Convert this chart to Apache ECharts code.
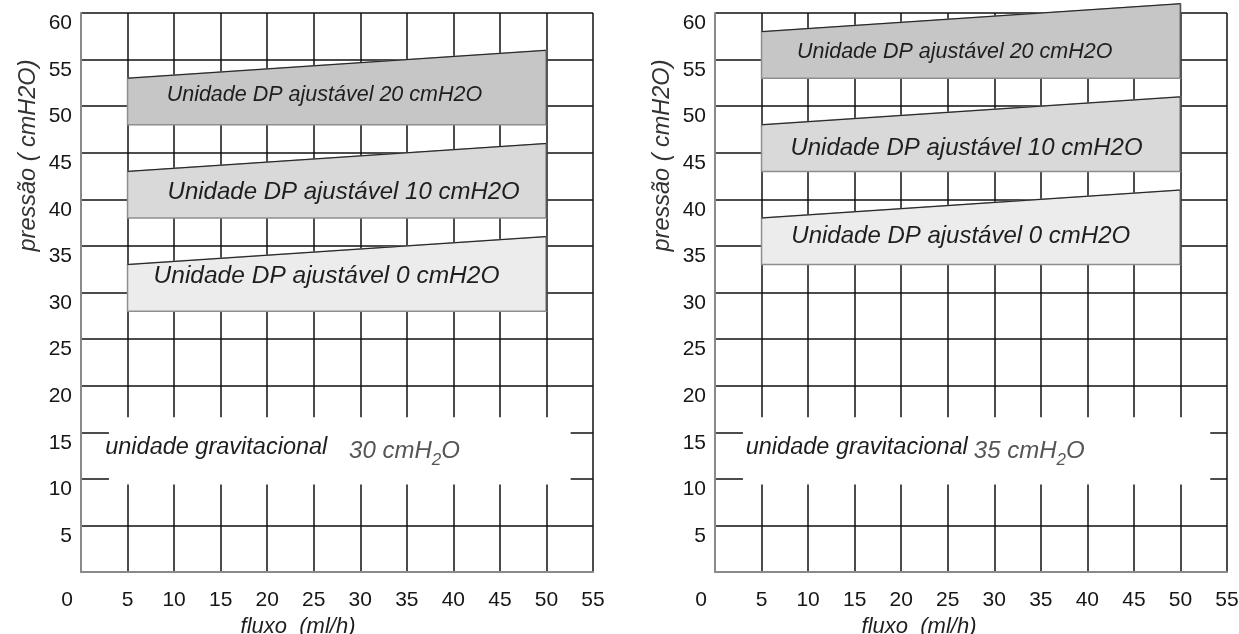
<!DOCTYPE html>
<html>
<head>
<meta charset="utf-8">
<title>pressão x fluxo</title>
<script src="https://cdn.jsdelivr.net/npm/echarts@6/dist/echarts.min.js"></script>
<style>
	html, body { margin: 0; padding: 0; background: #fff; }
	#chart { width: 1239px; height: 634px; }
</style>
</head>
<body>
<div id="chart"></div>
<script>
// data
const flowMin = 0, flowMax = 55, flowStep = 5;
const pressMin = 0, pressMax = 60, pressStep = 5;

const bandNames = ["Unidade DP ajustável 20 cmH2O", "Unidade DP ajustável 10 cmH2O", "Unidade DP ajustável 0 cmH2O"];
const bandFlow = [5, 50];
// left chart (gravitacional 30 cmH2O)
const leftBottom = [48, 38, 28];
const leftTopStart = [53, 43, 33];
const leftTopEnd = [56, 46, 36];
// right chart (gravitacional 35 cmH2O)
const rightBottom = [53, 43, 33];
const rightTopStart = [58, 48, 38];
const rightTopEnd = [61, 51, 41];

const gravLabel = "unidade gravitacional";
const gravValues = ["30", "35"];
const gapFlow = [[3, 52.6], [3, 53.2]];
const gapPress = [9.4, 16.6];

// styles / layout
const FONT = '"Liberation Sans", Arial, sans-serif';
const bandFills = ["#c6c6c6", "#d9d9d9", "#ececec"];
const bandFontSize = [[21.5, 24, 24.5], [21.5, 24, 24]];
const bandLabelAt = [
	[[9.2, 51.2], [9.3, 40.8], [7.8, 31.7]],
	[[8.8, 55.8], [8.1, 45.5], [8.2, 36.0]],
];
const gravAt = [[[2.6, 13.4], [28.8, 12.9]], [[3.3, 13.4], [27.8, 12.9]]];
const gridLeft = [81, 715];
const xNamePad = [78, 104];

const chart = echarts.init(document.getElementById("chart"));

function bandRows(bottom, t0, t1) {
	return bottom.map((b, i) => [bandFlow[0], bandFlow[1], b, t0[i], t1[i], i]);
}

function makeBandRender(side) {
	return function (params, api) {
		const i = api.value(5);
		const x0 = api.value(0), x1 = api.value(1), b = api.value(2), t0 = api.value(3), t1 = api.value(4);
		const p = [api.coord([x0, b]), api.coord([x1, b]), api.coord([x1, t1]), api.coord([x0, t0])];
		const lp = api.coord(bandLabelAt[side][i]);
		return {
			type: "group",
			children: [
				{ type: "polygon", shape: { points: p }, style: { fill: bandFills[i], stroke: "#8e8e8e", lineWidth: 1.5 } },
				{ type: "line", shape: { x1: p[3][0], y1: p[3][1], x2: p[2][0], y2: p[2][1] }, style: { stroke: "#222", lineWidth: 1 } },
				{ type: "line", shape: { x1: p[1][0], y1: p[1][1], x2: p[2][0], y2: p[2][1] }, style: { stroke: "#555", lineWidth: 1.5 } },
				{
					type: "text", x: lp[0], y: lp[1],
					style: {
						text: bandNames[i], fill: "#1e1e1e", fontSize: bandFontSize[side][i],
						fontStyle: "italic", fontFamily: FONT, align: "left", verticalAlign: "middle",
					},
				},
			],
		};
	};
}

function makeGapRender(side) {
	return function (params, api) {
		const a = api.coord([api.value(0), api.value(3)]);
		const b = api.coord([api.value(1), api.value(2)]);
		const g1 = api.coord(gravAt[side][0]);
		const g2 = api.coord(gravAt[side][1]);
		return {
			type: "group",
			children: [
				{ type: "rect", shape: { x: a[0], y: a[1], width: b[0] - a[0], height: b[1] - a[1] }, style: { fill: "#fff" } },
				{
					type: "text", x: g1[0], y: g1[1],
					style: { text: gravLabel, fill: "#1e1e1e", fontSize: 23.5, fontStyle: "italic", fontFamily: FONT, verticalAlign: "middle" },
				},
				{
					type: "text", x: g2[0], y: g2[1],
					style: {
						text: gravValues[side] + " cmH{sub|2}O", fill: "#555", fontSize: 24, fontStyle: "italic", fontFamily: FONT,
						verticalAlign: "middle",
						rich: { sub: { fontSize: 17, fontStyle: "italic", fontFamily: FONT, fill: "#555", padding: [16, 0, 0, 0] } },
					},
				},
			],
		};
	};
}

const grids = [], xAxes = [], yAxes = [], series = [];
[0, 1].forEach((side) => {
	grids.push({ left: gridLeft[side], top: 13, width: 512, height: 559, outerBoundsMode: "none", containLabel: false });
	xAxes.push({
		gridIndex: side, type: "value", min: flowMin, max: flowMax, interval: flowStep,
		name: "fluxo  (ml/h)", nameLocation: "middle", nameGap: 42,
		nameTextStyle: { fontSize: 22, fontStyle: "italic", color: "#1e1e1e", fontFamily: FONT, padding: [0, xNamePad[side], 0, 0] },
		axisLine: { show: true, lineStyle: { color: "#8a8a8a", width: 2 } },
		axisTick: { show: false },
		splitLine: { show: true, lineStyle: { color: "#111", width: 1.5 } },
		axisLabel: {
			margin: 18, fontSize: 21, color: "#161616", fontFamily: FONT,
			formatter: (v) => (v === 0 ? "{z|0}" : String(v)),
			rich: { z: { fontSize: 21, color: "#161616", fontFamily: FONT, padding: [0, 28, 0, 0] } },
		},
	});
	yAxes.push({
		gridIndex: side, type: "value", min: pressMin, max: pressMax, interval: pressStep,
		name: "pressão ( cmH2O)", nameLocation: "middle", nameGap: 41,
		nameTextStyle: { fontSize: 23.5, fontStyle: "italic", color: "#333", fontFamily: FONT, padding: [0, 0, 0, 274] },
		axisLine: { show: true, lineStyle: { color: "#8a8a8a", width: 2 } },
		axisTick: { show: false },
		splitLine: { show: true, lineStyle: { color: "#111", width: 1.5 } },
		axisLabel: { showMinLabel: false, margin: 9, fontSize: 21, color: "#161616", fontFamily: FONT, verticalAlign: "top" },
	});
	series.push({
		type: "custom", xAxisIndex: side, yAxisIndex: side, clip: false, silent: true,
		renderItem: makeGapRender(side),
		data: [[gapFlow[side][0], gapFlow[side][1], gapPress[0], gapPress[1]]],
	});
	series.push({
		type: "custom", xAxisIndex: side, yAxisIndex: side, clip: false, silent: true,
		renderItem: makeBandRender(side),
		data: side === 0 ? bandRows(leftBottom, leftTopStart, leftTopEnd) : bandRows(rightBottom, rightTopStart, rightTopEnd),
	});
});

chart.setOption({
	animation: false,
	backgroundColor: "#fff",
	grid: grids,
	xAxis: xAxes,
	yAxis: yAxes,
	series: series,
});
</script>
</body>
</html>
